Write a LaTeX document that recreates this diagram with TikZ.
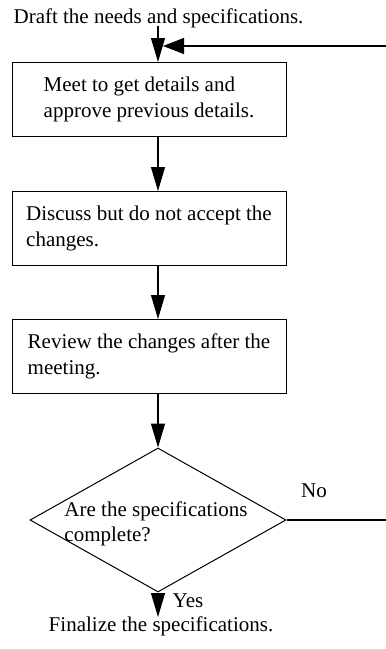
\documentclass[tikz,border=0pt]{standalone}
\usepackage{fontspec}
\setmainfont{Liberation Serif}
\usetikzlibrary{shapes.geometric,arrows.meta}
\tikzset{
  txt/.style={font=\fontsize{21}{25.5}\selectfont, inner sep=0pt, align=left},
  stepbox/.style={draw, line width=1pt, minimum width=274pt, minimum height=74pt, inner sep=0pt, font=\fontsize{21}{25.5}\selectfont, align=left},
  decision/.style={draw, diamond, line width=1pt, minimum width=256pt, minimum height=144pt, inner sep=0pt},
  arr/.style={line width=1.1pt, -{Triangle[length=24pt,width=14pt]}},
  harr/.style={line width=1.1pt, -{Triangle[length=21pt,width=16pt]}},
  line/.style={line width=1.1pt}
}
\begin{document}
\begin{tikzpicture}[x=1pt,y=-1pt]
\useasboundingbox (0,0) rectangle (386,649);
\node[txt, anchor=base] (start) at (158.5,23) {Draft the needs and specifications.};
\node[stepbox] (b1) at (149,99.5) {Meet to get details and\\approve previous details.};
\node[stepbox] (b2) at (149,228.5) {Discuss but do not accept the\\changes.};
\node[stepbox] (b3) at (149,356.5) {Review the changes after the\\meeting.};
\node[decision] (d) at (158,520) {};
\node[txt] (dt) at (156,524) {Are the specifications\\complete?};
\node[txt, anchor=base] (no) at (314,497) {No};
\node[txt, anchor=base] (yes) at (188,607) {Yes};
\node[txt, anchor=base] (fin) at (161,631) {Finalize the specifications.};
\coordinate (s0) at (158,26);
\coordinate (fend) at (158,617);
\coordinate (c1) at (388,520);
\coordinate (c2) at (388,46);
\coordinate (m) at (163,46);
\draw[arr] (s0) -- (b1.north -| d.north);
\draw[arr] (b1.south -| d.north) -- (b2.north -| d.north);
\draw[arr] (b2.south -| d.north) -- (b3.north -| d.north);
\draw[arr] (b3.south -| d.north) -- (d.north);
\draw[line] (d.east) -- (c1) -- (c2);
\draw[harr] (c2) -- (m);
\draw[arr] (d.south) -- (fend);
\end{tikzpicture}
\end{document}
